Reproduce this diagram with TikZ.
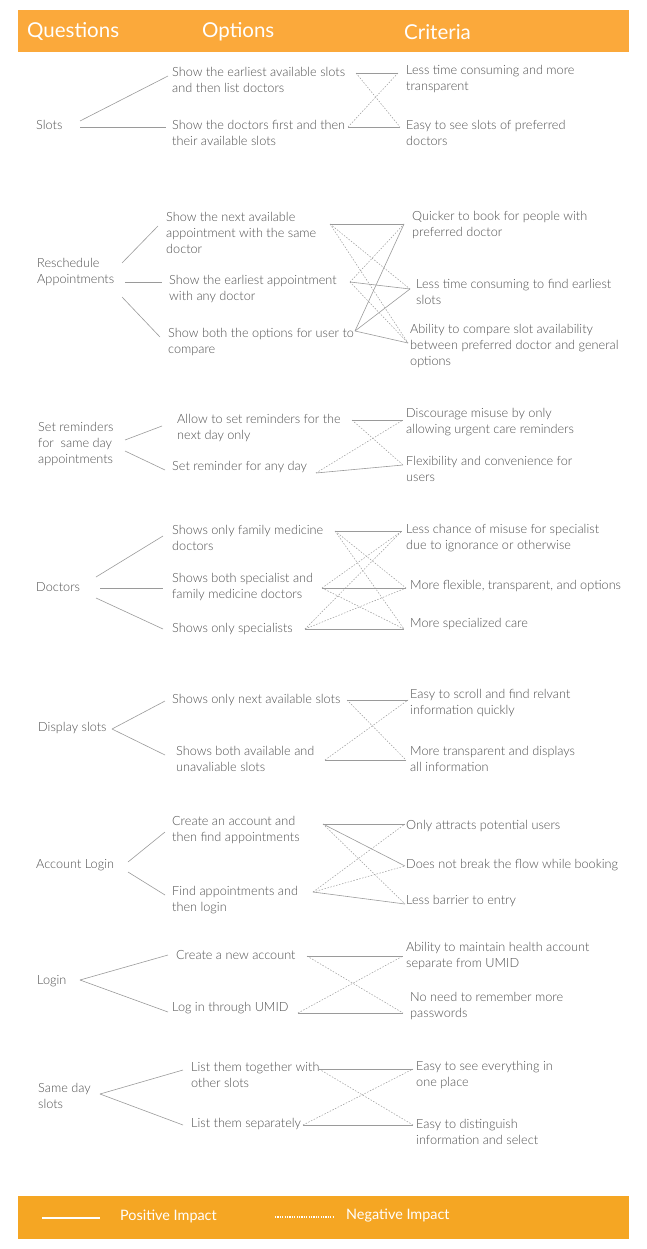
\documentclass[tikz,border=0pt]{standalone}
\usepackage{fontspec}
\IfFontExistsTF{Lato Light}{\setmainfont{Lato Light}}{\setmainfont{Lato}}
\newfontfamily\bandfont{Lato}
\definecolor{hdrorange}{HTML}{FBA93B}
\definecolor{ftrorange}{HTML}{F5A623}
\definecolor{txtgray}{HTML}{4F4F4F}
\definecolor{linegray}{HTML}{9A9A9A}
\tikzset{
  txt/.style={anchor=west, align=left, inner sep=0pt, text=txtgray, font=\fontsize{12.7}{16}\selectfont},
  hdr/.style={anchor=west, inner sep=0pt, text=white, font=\bandfont\fontsize{20.5}{24}\selectfont},
  ftr/.style={anchor=west, inner sep=0pt, text=white, font=\bandfont\fontsize{14.4}{17}\selectfont},
  posline/.style={draw=linegray, line width=0.6pt},
  negline/.style={draw=linegray, line width=0.5pt, dash pattern=on 1.5pt off 1.5pt},
}
\begin{document}
\begin{tikzpicture}[x=1pt,y=-1pt]
\useasboundingbox (0,0) rectangle (647,1249);
% header
\fill[hdrorange] (18,10) rectangle (629,52);
\node[hdr] (hq) at (27,32) {Questions};
\node[hdr] (ho) at (202,32) {Options};
\node[hdr] (hc) at (404,32) {Criteria};

% ---------- Slots
\node[txt] (q1) at (36,125) {Slots};
\node[txt] (q1o1) at (172,80) {Show the earliest available slots\\and then list doctors};
\node[txt] (q1o2) at (172,133) {Show the doctors first and then\\their available slots};
\node[txt] (q1c1) at (406,79) {Less time consuming and more\\transparent};
\node[txt] (q1c2) at (406,133) {Easy to see slots of preferred\\doctors};
\coordinate (q1a) at (80,121); \coordinate (q1b) at (80,127);
\coordinate (q1o1i) at (168,76); \coordinate (q1o2i) at (166,127);
\coordinate (q1o1o) at (356,73); \coordinate (q1o2o) at (348,127);
\coordinate (q1c1i) at (398,73); \coordinate (q1c2i) at (400,127);
\draw[posline] (q1a) -- (q1o1i);
\draw[posline] (q1b) -- (q1o2i);
\draw[posline] (q1o1o) -- (q1c1i);
\draw[posline] (q1o2o) -- (q1c2i);
\draw[negline] (q1o1o) -- (q1c2i);
\draw[negline] (q1o2o) -- (q1c1i);

% ---------- Reschedule
\node[txt] (q2) at (37,272) {Reschedule\\Appointments};
\node[txt] (q2o1) at (166,233) {Show the next available\\appointment with the same\\doctor};
\node[txt] (q2o2) at (169,289) {Show the earliest appointment\\with any doctor};
\node[txt] (q2o3) at (168,342) {Show both the options for user to\\compare};
\node[txt] (q2c1) at (412,225) {Quicker to book for people with\\preferred doctor};
\node[txt] (q2c2) at (416,292) {Less time consuming to find earliest\\slots};
\node[txt] (q2c3) at (410,346) {Ability to compare slot availability\\between preferred doctor and general\\options};
\coordinate (q2a) at (122,263); \coordinate (q2b) at (125,282); \coordinate (q2c) at (122,297);
\coordinate (q2o1i) at (158,226); \coordinate (q2o2i) at (162,282); \coordinate (q2o3i) at (160,337);
\coordinate (q2o1o) at (330,224); \coordinate (q2o2o) at (350,282); \coordinate (q2o3o) at (355,331);
\coordinate (q2c1i) at (404,224); \coordinate (q2c2i) at (410,289); \coordinate (q2c3i) at (408,343);
\draw[posline] (q2a) -- (q2o1i);
\draw[posline] (q2b) -- (q2o2i);
\draw[posline] (q2c) -- (q2o3i);
\draw[posline] (q2o1o) -- (q2c1i);
\draw[negline] (q2o1o) -- (q2c2i);
\draw[negline] (q2o1o) -- (q2c3i);
\draw[negline] (q2o2o) -- (q2c1i);
\draw[posline] (q2o2o) -- (q2c2i);
\draw[negline] (q2o2o) -- (q2c3i);
\draw[posline] (q2o3o) -- (q2c1i);
\draw[posline] (q2o3o) -- (q2c2i);
\draw[posline] (q2o3o) -- (q2c3i);

% ---------- Set reminders
\node[txt] (q3) at (38,444) {Set reminders\\for\ \ same day\\appointments};
\node[txt] (q3o1) at (177,428) {Allow to set reminders for the\\next day only};
\node[txt] (q3o2) at (172,467) {Set reminder for any day};
\node[txt] (q3c1) at (406,422) {Discourage misuse by only\\allowing urgent care reminders};
\node[txt] (q3c2) at (406,469) {Flexibility and convenience for\\users};
\coordinate (q3a) at (125,440); \coordinate (q3b) at (125,451);
\coordinate (q3o1i) at (162,426); \coordinate (q3o2i) at (165,470);
\coordinate (q3o1o) at (352,420); \coordinate (q3o2o) at (316,473);
\coordinate (q3c1i) at (403,420); \coordinate (q3c2i) at (403,465);
\draw[posline] (q3a) -- (q3o1i);
\draw[posline] (q3b) -- (q3o2i);
\draw[posline] (q3o1o) -- (q3c1i);
\draw[posline] (q3o2o) -- (q3c2i);
\draw[negline] (q3o1o) -- (q3c2i);
\draw[negline] (q3o2o) -- (q3c1i);

% ---------- Doctors
\node[txt] (q4) at (36,587) {Doctors};
\node[txt] (q4o1) at (172,538) {Shows only family medicine\\doctors};
\node[txt] (q4o2) at (172,587) {Shows both specialist and\\family medicine doctors};
\node[txt] (q4o3) at (172,629) {Shows only specialists};
\node[txt] (q4c1) at (406,538) {Less chance of misuse for specialist\\due to ignorance or otherwise};
\node[txt] (q4c2) at (410,586) {More flexible, transparent, and options};
\node[txt] (q4c3) at (410,624) {More specialized care};
\coordinate (q4a) at (96,577); \coordinate (q4b) at (100,588); \coordinate (q4c) at (96,598);
\coordinate (q4o1i) at (163,536); \coordinate (q4o2i) at (163,588); \coordinate (q4o3i) at (163,629);
\coordinate (q4o1o) at (335,531); \coordinate (q4o2o) at (322,588); \coordinate (q4o3o) at (305,629);
\coordinate (q4c1i) at (402,531); \coordinate (q4c2i) at (406,588); \coordinate (q4c3i) at (404,629);
\draw[posline] (q4a) -- (q4o1i);
\draw[posline] (q4b) -- (q4o2i);
\draw[posline] (q4c) -- (q4o3i);
\draw[posline] (q4o1o) -- (q4c1i);
\draw[negline] (q4o1o) -- (q4c2i);
\draw[negline] (q4o1o) -- (q4c3i);
\draw[negline] (q4o2o) -- (q4c1i);
\draw[posline] (q4o2o) -- (q4c2i);
\draw[negline] (q4o2o) -- (q4c3i);
\draw[negline] (q4o3o) -- (q4c1i);
\draw[negline] (q4o3o) -- (q4c2i);
\draw[posline] (q4o3o) -- (q4c3i);

% ---------- Display slots
\node[txt] (q5) at (38,728) {Display slots};
\node[txt] (q5o1) at (172,700) {Shows only next available slots};
\node[txt] (q5o2) at (176,759) {Shows both available and\\unavaliable slots};
\node[txt] (q5c1) at (410,703) {Easy to scroll and find relvant\\information quickly};
\node[txt] (q5c2) at (410,759) {More transparent and displays\\all information};
\coordinate (q5a) at (112,729);
\coordinate (q5o1i) at (165,701); \coordinate (q5o2i) at (165,755);
\coordinate (q5o1o) at (347,700); \coordinate (q5o2o) at (325,760);
\coordinate (q5c1i) at (408,700); \coordinate (q5c2i) at (406,760);
\draw[posline] (q5a) -- (q5o1i);
\draw[posline] (q5a) -- (q5o2i);
\draw[posline] (q5o1o) -- (q5c1i);
\draw[posline] (q5o2o) -- (q5c2i);
\draw[negline] (q5o1o) -- (q5c2i);
\draw[negline] (q5o2o) -- (q5c1i);

% ---------- Account Login
\node[txt] (q6) at (36,865) {Account Login};
\node[txt] (q6o1) at (172,830) {Create an account and\\then find appointments};
\node[txt] (q6o2) at (172,900) {Find appointments and\\then login};
\node[txt] (q6c1) at (406,826) {Only attracts potential users};
\node[txt] (q6c2) at (406,865) {Does not break the flow while booking};
\node[txt] (q6c3) at (406,901) {Less barrier to entry};
\coordinate (q6a) at (128,862); \coordinate (q6b) at (128,872);
\coordinate (q6o1i) at (165,832); \coordinate (q6o2i) at (165,895);
\coordinate (q6o1o) at (323,824); \coordinate (q6o2o) at (313,892);
\coordinate (q6c1i) at (405,824); \coordinate (q6c2i) at (405,866); \coordinate (q6c3i) at (405,904);
\draw[posline] (q6a) -- (q6o1i);
\draw[posline] (q6b) -- (q6o2i);
\draw[posline] (q6o1o) -- (q6c1i);
\draw[posline] (q6o1o) -- (q6c2i);
\draw[negline] (q6o1o) -- (q6c3i);
\draw[negline] (q6o2o) -- (q6c1i);
\draw[negline] (q6o2o) -- (q6c2i);
\draw[posline] (q6o2o) -- (q6c3i);

% ---------- Login
\node[txt] (q7) at (37,981) {Login};
\node[txt] (q7o1) at (176,955) {Create a new account};
\node[txt] (q7o2) at (172,1008) {Log in through UMID};
\node[txt] (q7c1) at (406,956) {Ability to maintain health account\\separate from UMID};
\node[txt] (q7c2) at (410,1006) {No need to remember more\\passwords};
\coordinate (q7a) at (80,980);
\coordinate (q7o1i) at (168,955); \coordinate (q7o2i) at (168,1012);
\coordinate (q7o1o) at (307,956); \coordinate (q7o2o) at (298,1013);
\coordinate (q7c1i) at (403,956); \coordinate (q7c2i) at (403,1013);
\draw[posline] (q7a) -- (q7o1i);
\draw[posline] (q7a) -- (q7o2i);
\draw[posline] (q7o1o) -- (q7c1i);
\draw[posline] (q7o2o) -- (q7c2i);
\draw[negline] (q7o1o) -- (q7c2i);
\draw[negline] (q7o2o) -- (q7c1i);

% ---------- Same day slots
\node[txt] (q8) at (38,1096) {Same day\\slots};
\node[txt] (q8o1) at (191,1075) {List them together with\\other slots};
\node[txt] (q8o2) at (191,1124) {List them separately};
\node[txt] (q8c1) at (416,1075) {Easy to see everything in\\one place};
\node[txt] (q8c2) at (416,1132) {Easy to distinguish\\information and select};
\coordinate (q8a) at (100,1094);
\coordinate (q8o1i) at (183,1070); \coordinate (q8o2i) at (183,1125);
\coordinate (q8o1o) at (319,1069); \coordinate (q8o2o) at (303,1125);
\coordinate (q8c1i) at (413,1069); \coordinate (q8c2i) at (413,1125);
\draw[posline] (q8a) -- (q8o1i);
\draw[posline] (q8a) -- (q8o2i);
\draw[posline] (q8o1o) -- (q8c1i);
\draw[posline] (q8o2o) -- (q8c2i);
\draw[negline] (q8o1o) -- (q8c2i);
\draw[negline] (q8o2o) -- (q8c1i);

% footer
\fill[ftrorange] (18,1196) rectangle (629,1239);
\coordinate (lp1) at (42,1218); \coordinate (lp2) at (100,1218);
\coordinate (ln1) at (275,1217); \coordinate (ln2) at (333,1217);
\draw[white, line width=1.3pt] (lp1) -- (lp2);
\draw[white, line width=1.3pt, dash pattern=on 1.2pt off 1.2pt] (ln1) -- (ln2);
\node[ftr] (lpos) at (120,1216) {Positive Impact};
\node[ftr] (lneg) at (346,1216) {Negative Impact};
\end{tikzpicture}
\end{document}
